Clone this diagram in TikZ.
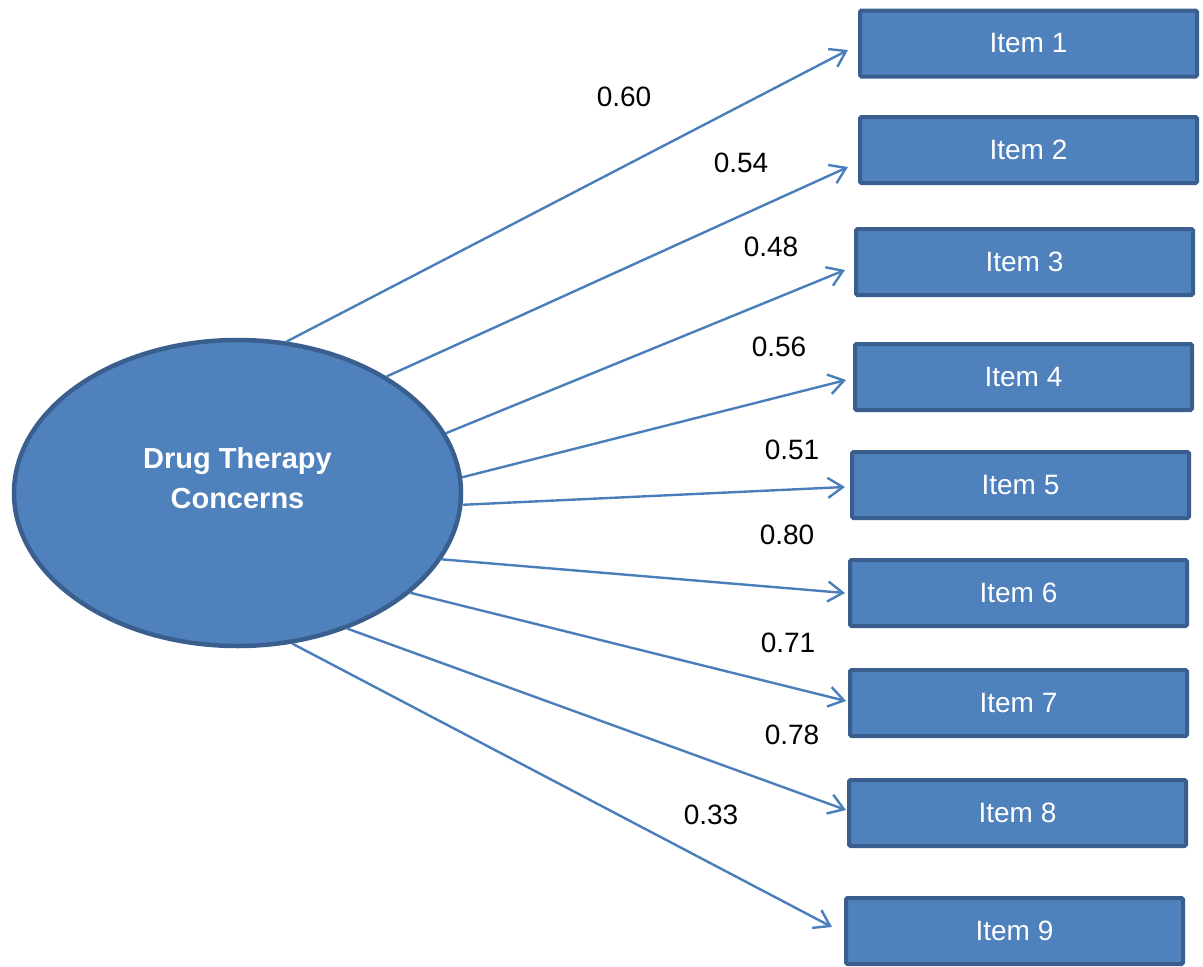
\documentclass[tikz,border=0pt]{standalone}
\usepackage{fontspec}
\setmainfont{Liberation Sans}
\usetikzlibrary{shapes.geometric,arrows.meta}
\definecolor{fillblue}{HTML}{4F81BD}
\definecolor{edgeblue}{HTML}{3A5F8E}
\definecolor{lineblue}{HTML}{4A7EBB}
\begin{document}
\begin{tikzpicture}[x=1pt,y=-1pt,
  itembox/.style={draw=edgeblue,fill=fillblue,line width=4pt,rounded corners=1.5pt,
    minimum width=337pt,minimum height=66pt,inner sep=0pt,text=white,
    font=\fontsize{28}{34}\selectfont},
  latent/.style={ellipse,draw=edgeblue,fill=fillblue,line width=4.5pt,
    minimum width=447pt,minimum height=306pt,inner sep=0pt},
  loadlbl/.style={font=\fontsize{28}{34}\selectfont,inner sep=0pt},
  conn/.style={draw=lineblue,line width=2.4pt,
    -{Straight Barb[length=15pt,width=20pt,line width=2.4pt]}}]
\useasboundingbox (0,0) rectangle (1203,967);
\node[latent] (f) at (237.5,493) {};
\node[align=center,text=white,font=\bfseries\fontsize{29}{40}\selectfont,inner sep=0pt] (ftext) at (237.5,478) {Drug Therapy\\Concerns};
\node[itembox] (i1) at (1028.5,43.5) {Item 1};
\node[itembox] (i2) at (1028.5,150) {Item 2};
\node[itembox] (i3) at (1024.5,262) {Item 3};
\node[itembox] (i4) at (1023.5,377) {Item 4};
\node[itembox] (i5) at (1020.5,485) {Item 5};
\node[itembox] (i6) at (1018.5,593) {Item 6};
\node[itembox] (i7) at (1018.5,703) {Item 7};
\node[itembox] (i8) at (1017.5,813) {Item 8};
\node[itembox] (i9) at (1014.5,931) {Item 9};
\draw[conn] (f.72.6) -- ([xshift=-10pt,yshift=-6.5pt]i1.west);
\draw[conn] (f.38.2) -- ([xshift=-10pt,yshift=-17pt]i2.west);
\draw[conn] (f.16.9) -- ([xshift=-9pt,yshift=-8pt]i3.west);
\draw[conn] (f.4.8) -- ([xshift=-7pt,yshift=-3pt]i4.west);
\draw[conn] (f.-3.3) -- ([xshift=-5pt,yshift=-2pt]i5.west);
\draw[conn] (f.-18.2) -- ([xshift=-3pt,yshift=0pt]i6.west);
\draw[conn] (f.-30.1) -- ([xshift=-2pt,yshift=2pt]i7.west);
\draw[conn] (f.-51.3) -- ([xshift=-1pt,yshift=3pt]i8.west);
\draw[conn] (f.-70.2) -- ([xshift=-12pt,yshift=4pt]i9.west);
\node[loadlbl] (l1) at (624,97) {0.60};
\node[loadlbl] (l2) at (741,163) {0.54};
\node[loadlbl] (l3) at (771,247) {0.48};
\node[loadlbl] (l4) at (779,347) {0.56};
\node[loadlbl] (l5) at (792,450) {0.51};
\node[loadlbl] (l6) at (787,535) {0.80};
\node[loadlbl] (l7) at (788,643) {0.71};
\node[loadlbl] (l8) at (792,735) {0.78};
\node[loadlbl] (l9) at (711,815) {0.33};
\end{tikzpicture}
\end{document}
